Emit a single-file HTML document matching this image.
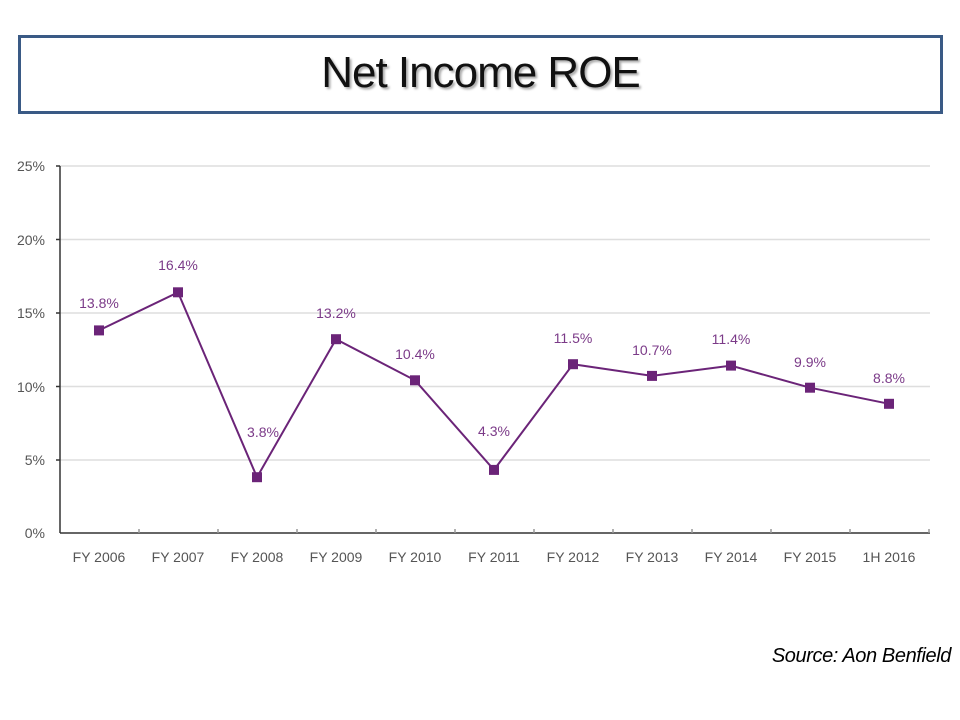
<!DOCTYPE html>
<html><head><meta charset="utf-8"><style>
body{margin:0;width:960px;height:720px;background:#fff;overflow:hidden;position:relative;font-family:"Liberation Sans",sans-serif}
.tb{position:absolute;left:18px;top:35px;width:919px;height:73px;border:3px solid #3a5a85;background:#fff}
.tt{position:absolute;left:0;right:0;top:10px;text-align:center;font-size:44px;color:#111;letter-spacing:-1px;text-shadow:2px 2px 2px #aaa}
.src{position:absolute;right:9px;top:645px;font-style:italic;font-size:20px;letter-spacing:-0.4px;color:#000}
</style></head><body>
<div class="tb"><div class="tt">Net Income ROE</div></div>
<svg width="960" height="720" style="position:absolute;left:0;top:0" font-family="Liberation Sans, sans-serif">
<g stroke="#dedede" stroke-width="1.5">
<line x1="60" y1="166" x2="930" y2="166"/><line x1="60" y1="239.5" x2="930" y2="239.5"/><line x1="60" y1="313" x2="930" y2="313"/><line x1="60" y1="386.5" x2="930" y2="386.5"/><line x1="60" y1="460" x2="930" y2="460"/>
</g>
<g stroke="#333" stroke-width="1.5">
<line x1="60" y1="166" x2="60" y2="533"/><line x1="60" y1="533" x2="930" y2="533"/>
<line x1="56" y1="166" x2="60" y2="166"/><line x1="56" y1="239.5" x2="60" y2="239.5"/><line x1="56" y1="313" x2="60" y2="313"/><line x1="56" y1="386.5" x2="60" y2="386.5"/><line x1="56" y1="460" x2="60" y2="460"/>
</g>
<g stroke="#999" stroke-width="1.5">
<line x1="139" y1="529" x2="139" y2="533"/><line x1="218" y1="529" x2="218" y2="533"/><line x1="297" y1="529" x2="297" y2="533"/><line x1="376" y1="529" x2="376" y2="533"/><line x1="455" y1="529" x2="455" y2="533"/><line x1="534" y1="529" x2="534" y2="533"/><line x1="613" y1="529" x2="613" y2="533"/><line x1="692" y1="529" x2="692" y2="533"/><line x1="771" y1="529" x2="771" y2="533"/><line x1="850" y1="529" x2="850" y2="533"/><line x1="929" y1="529" x2="929" y2="533"/>
</g>
<g fill="#555" font-size="14" text-anchor="end">
<text x="45" y="171">25%</text><text x="45" y="245">20%</text><text x="45" y="318">15%</text><text x="45" y="392">10%</text><text x="45" y="465">5%</text><text x="45" y="538">0%</text>
</g>
<g fill="#555" font-size="14" text-anchor="middle">
<text x="99" y="562">FY 2006</text><text x="178" y="562">FY 2007</text><text x="257" y="562">FY 2008</text><text x="336" y="562">FY 2009</text><text x="415" y="562">FY 2010</text><text x="494" y="562">FY 2011</text><text x="573" y="562">FY 2012</text><text x="652" y="562">FY 2013</text><text x="731" y="562">FY 2014</text><text x="810" y="562">FY 2015</text><text x="889" y="562">1H 2016</text>
</g>
<polyline fill="none" stroke="#6b2478" stroke-width="2" points="99,330.4 178,292.3 257,477.2 336,339.2 415,380.3 494,469.9 573,364.2 652,375.9 731,365.6 810,387.7 889,403.8"/>
<g fill="#6b2478">
<rect x="94" y="325.4" width="10" height="10"/><rect x="173" y="287.3" width="10" height="10"/><rect x="252" y="472.2" width="10" height="10"/><rect x="331" y="334.2" width="10" height="10"/><rect x="410" y="375.3" width="10" height="10"/><rect x="489" y="464.9" width="10" height="10"/><rect x="568" y="359.2" width="10" height="10"/><rect x="647" y="370.9" width="10" height="10"/><rect x="726" y="360.6" width="10" height="10"/><rect x="805" y="382.7" width="10" height="10"/><rect x="884" y="398.8" width="10" height="10"/>
</g>
<g fill="#7b3a88" font-size="14" text-anchor="middle">
<text x="99" y="308">13.8%</text><text x="178" y="270">16.4%</text><text x="263" y="437">3.8%</text><text x="336" y="318">13.2%</text><text x="415" y="359">10.4%</text><text x="494" y="436">4.3%</text><text x="573" y="343">11.5%</text><text x="652" y="355">10.7%</text><text x="731" y="344">11.4%</text><text x="810" y="367">9.9%</text><text x="889" y="383">8.8%</text>
</g>
</svg>
<div class="src">Source: Aon Benfield</div>
</body></html>
